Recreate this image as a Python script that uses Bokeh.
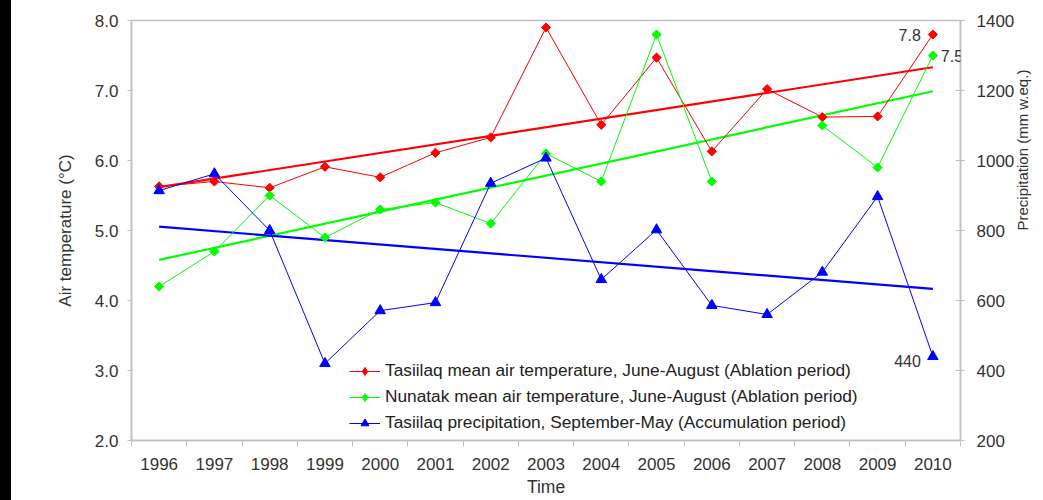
import math
import numpy as np
from bokeh.plotting import figure
from bokeh.models import (LinearAxis, Range1d, FixedTicker, NumeralTickFormatter,
                          Legend, LegendItem, Label, Div)
from bokeh.layouts import row
from bokeh.embed import file_html
from bokeh.resources import INLINE

# ---- data -------------------------------------------------------------
years = [1996, 1997, 1998, 1999, 2000, 2001, 2002, 2003, 2004, 2005,
         2006, 2007, 2008, 2009, 2010]
year_labels = ["1996", "1997", "1998", "1999", "2000", "2001", "2002", "2003",
               "2004", "2005", "2006", "2007", "2008", "2009", "2010"]

# mean air temperature June-August (deg C)
tasiilaq_temp = [5.63, 5.70, 5.61, 5.91, 5.76, 6.11, 6.33, 7.90, 6.51, 7.47,
                 6.13, 7.02, 6.62, 6.63, 7.8]
nunatak_temp = [4.20, 4.70, 5.50, 4.90, 5.30, 5.40, 5.10, 6.10, 5.70, 7.80,
                5.70, float("nan"), 6.50, 5.90, 7.5]
# precipitation September-May (mm w.eq.)
tasiilaq_precip = [914, 962, 800, 420, 571, 594, 935, 1007, 660, 802,
                   586, 560, 681, 897, 440]

temp_ticks = [2, 3, 4, 5, 6, 7, 8]
precip_ticks = [200, 400, 600, 800, 1000, 1200, 1400]

# ---- styling ----------------------------------------------------------
FONT = "Liberation Sans"
TXT = "#333333"
AXIS = "#c0c0c0"
RED, GREEN, BLUE = "#ff0000", "#00ff00", "#0000ff"


def trend(xs, ys):
    xs = np.asarray(xs, dtype=float)
    ys = np.asarray(ys, dtype=float)
    ok = ~np.isnan(ys)
    k, b = np.polyfit(xs[ok], ys[ok], 1)
    ends = np.array([xs[0], xs[-1]])
    return ends.tolist(), (k * ends + b).tolist()


p = figure(width=1032, height=500,
           x_range=Range1d(years[0] - 0.5, years[-1] + 0.5),
           y_range=Range1d(temp_ticks[0], temp_ticks[-1]),
           output_backend="svg", toolbar_location=None,
           min_border_left=120, min_border_right=83,
           min_border_top=20, min_border_bottom=60)
p.extra_y_ranges = {"precip": Range1d(precip_ticks[0], precip_ticks[-1])}
p.xgrid.visible = False
p.ygrid.visible = False
p.outline_line_color = AXIS
p.outline_line_width = 1.5
p.background_fill_color = "white"
p.border_fill_color = "white"

# x axis: labels centred on years, tick marks between years
bounds = [y - 0.5 for y in years] + [years[-1] + 0.5]
xa = p.xaxis[0]
xa.ticker = FixedTicker(ticks=years, minor_ticks=bounds)
xa.major_label_overrides = {y: s for y, s in zip(years, year_labels)}
xa.major_tick_out = 0
xa.major_tick_in = 0
xa.minor_tick_out = 6
xa.minor_tick_in = 0
xa.minor_tick_line_color = AXIS
xa.axis_label = "Time"

ya = p.yaxis[0]
ya.ticker = FixedTicker(ticks=temp_ticks, minor_ticks=[])
ya.formatter = NumeralTickFormatter(format="0.0")
ya.major_tick_out = 4
ya.major_tick_in = 0
ya.minor_tick_out = 0
ya.axis_label = "Air temperature (°C)"

ra = LinearAxis(y_range_name="precip",
                ticker=FixedTicker(ticks=precip_ticks, minor_ticks=[]))
ra.major_tick_out = 4
ra.major_tick_in = 5
ra.minor_tick_out = 0
ra.axis_label = "Precipitation (mm w.eq.)"
ra.axis_label_orientation = math.pi / 2
p.add_layout(ra, "right")

for ax in (xa, ya, ra):
    ax.axis_line_color = AXIS
    ax.axis_line_width = 1.5
    ax.major_tick_line_color = AXIS
    ax.major_label_text_font = FONT
    ax.major_label_text_font_size = "17px"
    ax.major_label_text_color = TXT
    ax.axis_label_text_font = FONT
    ax.axis_label_text_font_size = "17px"
    ax.axis_label_text_font_style = "normal"
    ax.axis_label_text_color = TXT
xa.major_label_standoff = 11
xa.axis_label_standoff = 4
xa.axis_label_text_font_size = "17.5px"
ya.major_label_standoff = 9
ya.axis_label_standoff = 17
ra.major_label_standoff = 12
ra.axis_label_standoff = 5
ra.axis_label_text_font_size = "15px"

# ---- series -----------------------------------------------------------
tx, ty = trend(years, tasiilaq_temp)
p.line(tx, ty, color=RED, line_width=2.2)
nx, ny = trend(years, nunatak_temp)
p.line(nx, ny, color=GREEN, line_width=2.2)
px, py = trend(years, tasiilaq_precip)
p.line(px, py, color=BLUE, line_width=2.2, y_range_name="precip")

r_line = p.line(years, tasiilaq_temp, color=RED, line_width=1)
p.scatter(years, tasiilaq_temp, marker="square", angle=math.pi / 4,
          size=6.5, color=RED)
g_line = p.line(years, nunatak_temp, color=GREEN, line_width=1)
p.scatter(years, nunatak_temp, marker="square", angle=math.pi / 4,
          size=6.5, color=GREEN)
b_line = p.line(years, tasiilaq_precip, color=BLUE, line_width=1,
                y_range_name="precip")
b_pts = p.scatter(years, tasiilaq_precip, marker="triangle", size=10.5,
                  color=BLUE, y_range_name="precip")

# diamond keys for the legend (no position, so nothing is drawn in the plot)
nan = float("nan")
r_key = p.scatter([nan], [nan], marker="diamond", size=10, color=RED)
g_key = p.scatter([nan], [nan], marker="diamond", size=10, color=GREEN)

# value labels on the last year
lab_style = dict(text_font=FONT, text_font_size="16px", text_color=TXT,
                 text_baseline="middle")
p.add_layout(Label(x=years[-1], y=tasiilaq_temp[-1],
                   text=f"{tasiilaq_temp[-1]:.1f}", x_offset=-12,
                   text_align="right", **lab_style))
p.add_layout(Label(x=years[-1], y=nunatak_temp[-1],
                   text=f"{nunatak_temp[-1]:.1f}", x_offset=8,
                   text_align="left", **lab_style))
p.add_layout(Label(x=years[-1], y=tasiilaq_precip[-1], y_range_name="precip",
                   text=f"{tasiilaq_precip[-1]:.0f}", x_offset=-12, y_offset=-4,
                   text_align="right", **lab_style))

legend = Legend(items=[
    LegendItem(label="Tasiilaq mean air temperature, June-August (Ablation period)",
               renderers=[r_line, r_key]),
    LegendItem(label="Nunatak mean air temperature, June-August (Ablation period)",
               renderers=[g_line, g_key]),
    LegendItem(label="Tasiilaq precipitation, September-May (Accumulation period)",
               renderers=[b_line, b_pts]),
], location=(218, 7))
legend.border_line_alpha = 0
legend.background_fill_alpha = 0
legend.padding = 0
legend.margin = 0
legend.spacing = 5
legend.glyph_width = 31
legend.glyph_height = 20
legend.label_height = 20
legend.label_standoff = 5
legend.label_text_font = FONT
legend.label_text_font_size = "17.3px"
legend.label_text_color = "#222222"
p.add_layout(legend)

strip = Div(width=11, height=500, margin=0,
            styles={"background-color": "black"})
layout = row(strip, p)

open("out.html", "w").write(file_html(layout, INLINE))
